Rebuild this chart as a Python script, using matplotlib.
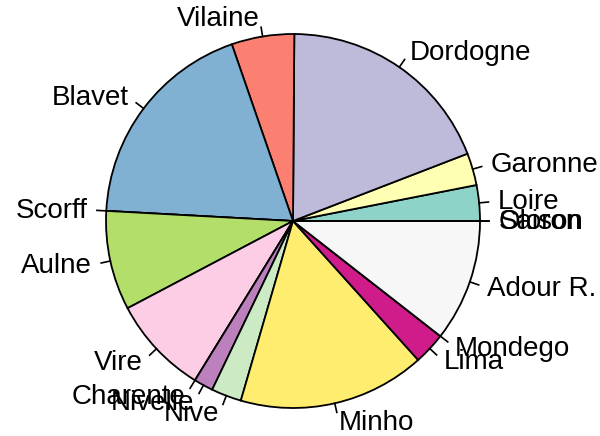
# pie of rivers, base-R look
import numpy as np
import matplotlib.pyplot as plt

rivers = ["Loire", "Garonne", "Dordogne", "Vilaine", "Blavet", "Scorff", "Aulne",
          "Vire", "Charente", "Nivelle", "Nive", "Minho", "Lima", "Mondego",
          "Adour R.", "Oloron", "Saison"]
values = [11.1, 10.0, 68.5, 19.5, 67.8, 0, 30.9,
          30.6, 0, 6.0, 9.4, 58.2, 10.0, 0,
          38.0, 0, 0]
colors = ["#8DD3C7", "#FFFFB3", "#BEBADA", "#FB8072", "#80B1D3", "#FDB462", "#B3DE69",
          "#FCCDE5", "#D9D9D9", "#BC80BD", "#CCEBC5", "#FFED6F", "#D01C8B", "#F1B6DA",
          "#F7F7F7", "#B8E186", "#4DAC26"]

plt.rcParams['font.family'] = ['Liberation Sans', 'DejaVu Sans']

fig = plt.figure(figsize=(6, 4.36), dpi=100)
ax = fig.add_axes([0, 0, 1, 1])

cx, cy, r = 293, 436 - 221, 187
wedges, _ = ax.pie(values, colors=colors, startangle=0, counterclock=True,
                   center=(cx, cy), radius=r, frame=True,
                   wedgeprops=dict(edgecolor='black', linewidth=1.3))
ax.set_xlim(0, 600)
ax.set_ylim(0, 436)
ax.set_aspect('equal')
ax.axis('off')

# R-style labels: short tick out of the rim, text at 1.1 r
for w, name in zip(wedges, rivers):
    mid = np.deg2rad((w.theta1 + w.theta2) / 2)
    c, s = np.cos(mid), np.sin(mid)
    ax.plot([cx + r * c, cx + 1.05 * r * c], [cy + r * s, cy + 1.05 * r * s],
            color='black', lw=1.2)
    ax.text(cx + 1.1 * r * c, cy + 1.1 * r * s - 1, name, fontsize=20,
            ha='left' if c >= 0 else 'right', va='center')

fig.savefig("out.png", dpi=100)
